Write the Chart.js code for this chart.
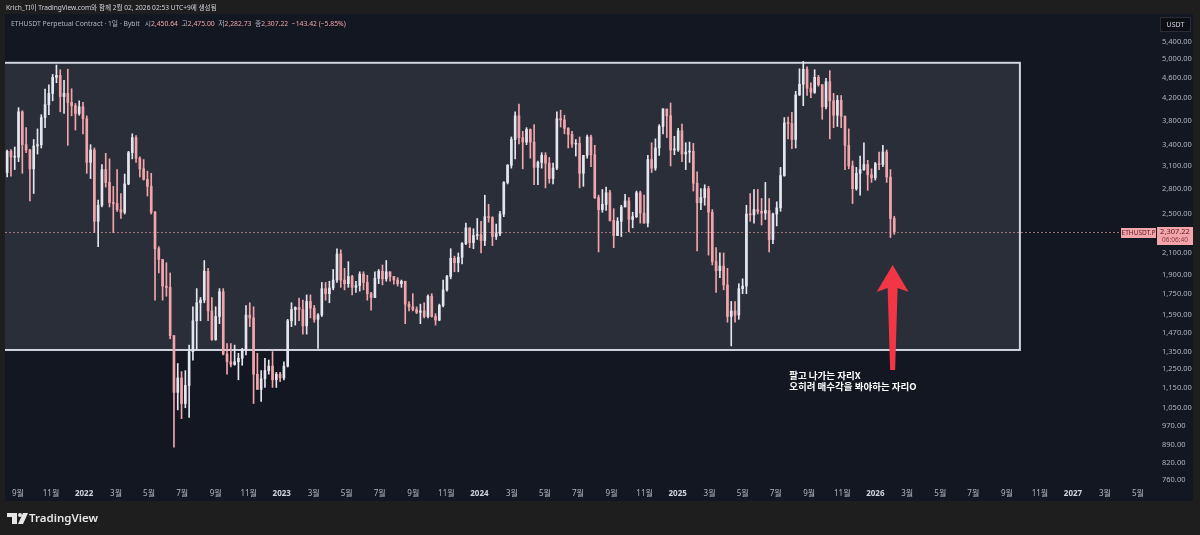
<!DOCTYPE html>
<html>
<head>
<meta charset="utf-8">
<script src="https://cdn.jsdelivr.net/npm/chart.js@4.4.1/dist/chart.umd.min.js"></script>
<style>
  html, body { margin: 0; padding: 0; background: #1e1e1e; }
  canvas { display: block; }
</style>
</head>
<body>
<canvas id="ethChart" width="1200" height="535"></canvas>
<script>
// ======================================================
// ETHUSDT.P (Bybit) - weekly candles
// ======================================================

const firstWeek = '2021-08-09';   // monday of the first candle, one candle per week

const opens = [
  // 2021
  3010,3310,3225,3225,3950,3410,3330,3060,3390,3410,3850,4080,4290,4610,4650,4230,4290,4120,4060,3920,4040,
  // 2022
  3830,3150,3330,2420,2600,3050,2880,2630,2620,2550,2520,2860,3290,3520,3210,3060,2920,2830,2520,2140,2040,1810,1800,1450,1125,1200,
  1070,1160,1350,1550,1680,1700,1935,1620,1425,1580,1765,1335,1290,1275,1290,1310,1360,1590,1570,1220,1140,1195,1240,1265,1190,1220,
  // 2023
  1200,1265,1550,1630,1645,1630,1515,1690,1640,1560,1590,1790,1750,1795,1860,2090,1860,1830,1890,1800,1815,1910,1840,1750,1720,1875,
  1935,1870,1930,1890,1860,1830,1850,1670,1650,1630,1610,1620,1580,1730,1580,1555,1660,1780,1890,2050,2010,2060,2190,2350,2200,2270,
  // 2024
  2280,2220,2470,2460,2260,2290,2500,2880,3110,3490,3880,3520,3450,3650,3450,3080,3150,3250,3140,2930,3070,3830,3810,3670,3570,3420,
  3430,3000,3250,3530,3260,2690,2550,2610,2750,2430,2270,2420,2580,2650,2440,2470,2750,2510,2400,3190,3070,3360,3700,4000,3880,3330,3330,
  // 2025
  3630,3270,3300,3310,2870,2630,2690,2800,2520,2020,1940,1980,1820,1580,1620,1590,1790,1810,2500,2490,2550,2530,2510,2540,2230,2500,
  2570,2970,3760,3750,3490,4260,4470,4780,4390,4310,4610,4460,4040,4520,4150,3890,4160,3870,3400,3100,2800,3000,3050,3120,2980,2940,
  // 2026
  3130,3120,3300,2950,2450.64
];
const highs = [
  3330,3335,3375,4025,3970,3680,3340,3490,3660,3900,4375,4460,4670,4870,4770,4550,4780,4380,4100,4150,4120,
  3880,3410,3360,2660,3120,3280,3200,2830,3050,2740,2990,3310,3580,3550,3230,3190,3030,3000,2530,2160,2040,2010,1920,1450,1280,1235,
  1240,1390,1650,1790,1720,2030,1960,1720,1650,1790,1790,1400,1400,1390,1340,1370,1660,1680,1650,1340,1240,1310,1300,1350,1230,1230,
  1290,1560,1680,1650,1715,1700,1740,1740,1660,1600,1840,1840,1850,1950,2140,2130,1960,2020,1900,1850,1930,1930,1900,1760,1930,1950,
  1990,2030,1930,1890,1880,1860,1850,1690,1750,1650,1670,1680,1740,1750,1600,1670,1860,1900,2140,2070,2100,2200,2400,2350,2340,2450,
  2420,2720,2610,2470,2390,2530,2890,3120,3530,3950,4090,3620,3680,3660,3730,3170,3290,3290,3220,3140,3950,3980,3890,3680,3620,3490,
  3530,3250,3560,3560,3400,2720,2790,2820,2780,2560,2460,2600,2730,2690,2520,2770,2770,2720,3250,3440,3500,3730,4010,4000,4110,3540,3670,
  3740,3440,3450,3430,3020,2800,2850,2830,2550,2150,2100,2100,1960,1690,1690,1830,1870,2600,2740,2790,2790,2680,2880,2680,2510,2640,
  3080,3850,3860,3940,4330,4790,4950,4830,4500,4770,4650,4460,4590,4750,4290,4250,4250,3880,3660,3170,3080,3240,3440,3180,3060,3150,
  3300,3400,3330,3050,2475.00
];
const lows = [
  2950,2960,3050,3160,3000,3290,2650,2740,3270,3360,3680,3900,4150,4500,3950,3920,3400,3880,3640,3890,3580,
  3000,2930,2300,2160,2580,2820,2580,2300,2530,2450,2500,2850,3200,3150,2950,2910,2710,2500,1700,1920,1700,1730,1430,880,1040,1000,
  1050,1005,1300,1360,1550,1680,1550,1420,1420,1530,1330,1220,1260,1270,1190,1270,1330,1510,1070,1140,1080,1150,1220,1150,1150,1180,
  1190,1260,1510,1520,1550,1460,1460,1570,1540,1370,1580,1700,1680,1780,1840,1800,1780,1800,1740,1760,1770,1780,1700,1625,1720,1830,
  1820,1850,1850,1825,1810,1800,1530,1620,1620,1600,1530,1570,1570,1575,1520,1550,1650,1770,1870,1930,1930,2000,2180,2150,2140,2230,
  2100,2170,2410,2170,2230,2270,2470,2860,3070,3200,3420,3060,3410,3210,2850,2850,3070,2810,2870,2860,3050,3690,3580,3360,3370,3240,
  2810,2830,3210,3090,2680,2110,2520,2540,2420,2150,2270,2260,2580,2310,2350,2460,2400,2400,2360,3010,3040,3250,3580,3520,3100,3260,3310,
  3160,3050,3150,2770,2120,2550,2600,2080,1990,1760,1880,1780,1540,1385,1540,1560,1750,1750,2420,2400,2500,2380,2440,2110,2190,2370,
  2530,2960,3500,3350,3360,4250,4060,4250,4210,4290,4430,3820,4000,3500,3680,3700,3680,3050,3060,2620,2780,2720,3040,2780,2880,2910,
  3050,3090,2880,2250,2282.73
];
const closes = [
  3310,3225,3225,3950,3410,3330,3060,3390,3410,3850,4080,4290,4610,4650,4230,4290,4120,4060,3920,4040,3830,
  3150,3330,2420,2600,3050,2880,2630,2620,2550,2520,2860,3290,3520,3210,3060,2920,2830,2520,2140,2040,1810,1800,1450,1125,1200,1070,
  1160,1350,1550,1680,1700,1935,1620,1425,1580,1765,1335,1290,1275,1290,1310,1360,1590,1570,1220,1140,1195,1240,1265,1190,1220,1200,
  1265,1550,1630,1645,1630,1515,1690,1640,1560,1590,1790,1750,1795,1860,2090,1860,1830,1890,1800,1815,1910,1840,1750,1720,1875,1935,
  1870,1930,1890,1860,1830,1850,1670,1650,1630,1610,1620,1580,1730,1580,1555,1660,1780,1890,2050,2010,2060,2190,2350,2200,2270,2280,
  2220,2470,2460,2260,2290,2500,2880,3110,3490,3880,3520,3450,3650,3450,3080,3150,3250,3140,2930,3070,3830,3810,3670,3570,3420,3430,
  3000,3250,3530,3260,2690,2550,2610,2750,2430,2270,2420,2580,2650,2440,2470,2750,2510,2400,3190,3070,3360,3700,4000,3880,3330,3330,3630,
  3270,3300,3310,2870,2630,2690,2800,2520,2020,1940,1980,1820,1580,1620,1590,1790,1810,2500,2490,2550,2530,2510,2540,2230,2500,2570,
  2970,3760,3750,3490,4260,4470,4780,4390,4310,4610,4460,4040,4520,4150,3890,4160,3870,3400,3100,2800,3000,3050,3120,2980,2940,3130,
  3120,3300,2950,2450.64,2307.22
];

// price axis ticks (log scale) and time axis ticks
const yTicks = [5400,5000,4600,4200,3800,3400,3100,2800,2500,2100,1900,1750,1590,1470,1350,1250,1150,1050,970,890,820,760];
const xTickDates = [
  '2021-09-01','2021-11-01',
  '2022-01-01','2022-03-01','2022-05-01','2022-07-01','2022-09-01','2022-11-01',
  '2023-01-01','2023-03-01','2023-05-01','2023-07-01','2023-09-01','2023-11-01',
  '2024-01-01','2024-03-01','2024-05-01','2024-07-01','2024-09-01','2024-11-01',
  '2025-01-01','2025-03-01','2025-05-01','2025-07-01','2025-09-01','2025-11-01',
  '2026-01-01','2026-03-01','2026-05-01','2026-07-01','2026-09-01','2026-11-01',
  '2027-01-01','2027-03-01','2027-05-01'
];
const xTickLabels = [
  '9월','11월',
  '2022','3월','5월','7월','9월','11월',
  '2023','3월','5월','7월','9월','11월',
  '2024','3월','5월','7월','9월','11월',
  '2025','3월','5월','7월','9월','11월',
  '2026','3월','5월','7월','9월','11월',
  '2027','3월','5월'
];

// drawing on the chart: range box, arrow, note
const boxDates = ['2021-06-01', '2026-09-25'];
const boxPrices = [4920, 1360];
const arrowDate = '2026-02-02';
const arrowPrices = [1244, 1990];      // tail, tip
const noteDate = '2025-07-26';
const notePrice = 1214;
const noteLines = ['팔고 나가는 자리X', '오히려 매수각을 봐야하는 자리O'];

const headerLine = 'Krich_TI이 TradingView.com와 함께 2월 02, 2026 02:53 UTC+9에 생성됨';
const symbolTitle = 'ETHUSDT Perpetual Contract · 1일 · Bybit';

const upColor = '#e4e6ee';
const downColor = '#f2a5aa';
const FONT = '"Noto Sans", "Noto Sans CJK KR", sans-serif';

function dayOf(s) {
  return (Date.parse(s) - Date.parse('2022-01-01')) / 86400000;
}
const xMin = -146, xMax = 1983;

const startDay = dayOf(firstWeek);
const wickData = highs.map((h, i) => ({ x: startDay + i * 7 + 3, y: [lows[i], h] }));
const bodyData = opens.map((o, i) => ({
  x: startDay + i * 7 + 3,
  y: [Math.min(o, closes[i]), Math.max(o, closes[i])]
}));
const candleColor = ctx => closes[ctx.dataIndex] >= opens[ctx.dataIndex] ? upColor : downColor;

const fmt = v => v.toLocaleString('en-US', { minimumFractionDigits: 2, maximumFractionDigits: 2 });
const isYear = i => xTickLabels[i] && xTickLabels[i].length === 4;

// ======================================================
// 그리기 플러그인: 패널, 박스, 화살표, 라벨
// ======================================================
const chrome = {
  id: 'chrome',
  beforeDraw(chart) {
    const c = chart.ctx;
    c.save();
    c.fillStyle = '#1e1e1e';
    c.fillRect(0, 0, chart.width, chart.height);
    c.fillStyle = '#131722';
    c.fillRect(5, 14, 1188, 487);
    c.restore();
  },
  beforeDatasetsDraw(chart) {
    const c = chart.ctx, xs = chart.scales.x, ys = chart.scales.y, a = chart.chartArea;
    c.save();
    c.beginPath();
    c.rect(a.left, a.top, a.right - a.left, a.bottom - a.top);
    c.clip();
    const x0 = xs.getPixelForValue(dayOf(boxDates[0]));
    const x1 = xs.getPixelForValue(dayOf(boxDates[1]));
    const y0 = ys.getPixelForValue(boxPrices[0]);
    const y1 = ys.getPixelForValue(boxPrices[1]);
    c.fillStyle = '#2a2e39';
    c.fillRect(x0, y0, x1 - x0, y1 - y0);
    c.strokeStyle = '#d1d4dc';
    c.lineWidth = 2;
    c.strokeRect(x0, y0, x1 - x0, y1 - y0);

    // last price line
    const yp = Math.round(ys.getPixelForValue(closes[closes.length - 1])) + 0.5;
    c.strokeStyle = 'rgba(242,165,170,0.6)';
    c.lineWidth = 1;
    c.setLineDash([2, 2]);
    c.beginPath();
    c.moveTo(a.left, yp);
    c.lineTo(a.right, yp);
    c.stroke();
    c.restore();
  },
  afterDatasetsDraw(chart) {
    const c = chart.ctx, xs = chart.scales.x, ys = chart.scales.y;
    c.save();
    // red arrow
    const ax = xs.getPixelForValue(dayOf(arrowDate));
    const yTail = ys.getPixelForValue(arrowPrices[0]);
    const yTip = ys.getPixelForValue(arrowPrices[1]);
    const headBase = yTip + 27;
    c.fillStyle = '#f23645';
    c.beginPath();
    c.moveTo(ax, yTip);
    c.lineTo(ax + 16, headBase);
    c.lineTo(ax + 5, headBase - 4);
    c.lineTo(ax + 2.5, yTail);
    c.lineTo(ax - 2.5, yTail);
    c.lineTo(ax - 5, headBase - 4);
    c.lineTo(ax - 16, headBase);
    c.closePath();
    c.fill();

    // note
    const nx = xs.getPixelForValue(dayOf(noteDate));
    const ny = ys.getPixelForValue(notePrice);
    c.fillStyle = '#ffffff';
    c.font = 'bold 9.5px "Noto Sans CJK KR", "Noto Sans", sans-serif';
    c.textBaseline = 'middle';
    noteLines.forEach((t, i) => c.fillText(t, nx, ny + i * 11.5));
    c.restore();
  },
  afterDraw(chart) {
    const c = chart.ctx, ys = chart.scales.y;
    const n = closes.length - 1;
    c.save();
    c.textBaseline = 'middle';

    // header
    c.font = '6.6px ' + FONT;
    c.fillStyle = '#d1d4dc';
    c.fillText(headerLine, 6, 8);

    // legend row
    const chg = closes[n] - closes[n - 1];
    const pct = chg / closes[n - 1] * 100;
    c.font = '6.8px ' + FONT;
    c.fillStyle = '#b2b5be';
    c.fillText(symbolTitle, 11, 24);
    const parts = [
      ['시', '#b2b5be'], [fmt(opens[n]) + '  ', downColor],
      ['고', '#b2b5be'], [fmt(highs[n]) + '  ', downColor],
      ['저', '#b2b5be'], [fmt(lows[n]) + '  ', downColor],
      ['종', '#b2b5be'], [fmt(closes[n]) + '  ', downColor],
      ['\u2212' + fmt(-chg) + ' (\u2212' + fmt(-pct) + '%)', downColor]
    ];
    let lx = 11 + c.measureText(symbolTitle).width + 5;
    parts.forEach(([t, col]) => {
      c.fillStyle = col;
      c.fillText(t, lx, 24);
      lx += c.measureText(t).width;
    });

    // USDT box
    c.fillStyle = '#0c0e13';
    c.fillRect(1160, 17, 31, 15);
    c.strokeStyle = '#2a2e39';
    c.lineWidth = 1;
    c.strokeRect(1160.5, 17.5, 30, 14);
    c.fillStyle = '#d1d4dc';
    c.font = '7px ' + FONT;
    c.textAlign = 'center';
    c.fillText('USDT', 1175.5, 24.5);

    // last price labels
    const yp = Math.round(ys.getPixelForValue(closes[n]));
    c.fillStyle = '#f2a5aa';
    c.fillRect(1121, yp - 4, 35, 10);
    c.fillRect(1157, yp - 5, 36, 18);
    c.fillStyle = '#5a1a1f';
    c.font = '6.5px ' + FONT;
    c.fillText('ETHUSDT.P', 1138.5, yp + 1);
    c.font = '7.5px ' + FONT;
    c.fillText(fmt(closes[n]), 1175, yp);
    c.fillStyle = '#8c3a42';
    c.font = '6.5px ' + FONT;
    c.fillText('06:06:40', 1175, yp + 8.5);

    // footer logo
    c.textAlign = 'left';
    c.fillStyle = '#e6e6e6';
    c.fillRect(7, 513, 10, 4);
    c.fillRect(12, 513, 5, 11);
    c.beginPath();
    c.arc(20, 515, 2, 0, Math.PI * 2);
    c.fill();
    c.beginPath();
    c.moveTo(23, 513); c.lineTo(28, 513); c.lineTo(23, 524); c.lineTo(18, 524);
    c.closePath();
    c.fill();
    c.font = '600 11.5px ' + FONT;
    c.fillText('TradingView', 29, 518.5);
    c.restore();
  }
};

const noPad = s => { s.paddingLeft = 0; s.paddingRight = 0; s.paddingTop = 0; s.paddingBottom = 0; };

new Chart(document.getElementById('ethChart'), {
  type: 'bar',
  data: {
    datasets: [
      { data: wickData, backgroundColor: candleColor, barThickness: 1, grouped: false },
      { data: bodyData, backgroundColor: candleColor, barThickness: 2, grouped: false, minBarLength: 1 }
    ]
  },
  options: {
    responsive: false,
    animation: false,
    devicePixelRatio: 1,
    events: [],
    layout: { padding: { left: 5, top: 15, right: 7, bottom: 34 } },
    plugins: { legend: { display: false }, tooltip: { enabled: false } },
    scales: {
      x: {
        type: 'linear',
        offset: false,
        min: xMin,
        max: xMax,
        grid: { display: false, drawTicks: false, offset: false },
        border: { display: false },
        afterBuildTicks: s => { s.ticks = xTickDates.map(d => ({ value: dayOf(d) })); },
        afterFit: s => { s.height = 16; noPad(s); },
        ticks: {
          autoSkip: false,
          maxRotation: 0,
          padding: 4,
          color: ctx => isYear(ctx.index) ? '#d1d4dc' : '#b2b5be',
          font: ctx => ({ family: FONT, size: 8, weight: isYear(ctx.index) ? 'bold' : 'normal' }),
          callback: (v, i) => xTickLabels[i]
        }
      },
      y: {
        type: 'logarithmic',
        position: 'right',
        min: 743,
        max: 6094,
        grid: { display: false, drawTicks: false },
        border: { display: false },
        afterBuildTicks: s => { s.ticks = yTicks.map(v => ({ value: v })); },
        afterFit: s => { s.width = 35; noPad(s); },
        ticks: {
          autoSkip: false,
          padding: 4,
          color: '#b2b5be',
          font: { family: FONT, size: 7.5 },
          callback: v => fmt(v)
        }
      }
    }
  },
  plugins: [chrome]
});
</script>
</body>
</html>
